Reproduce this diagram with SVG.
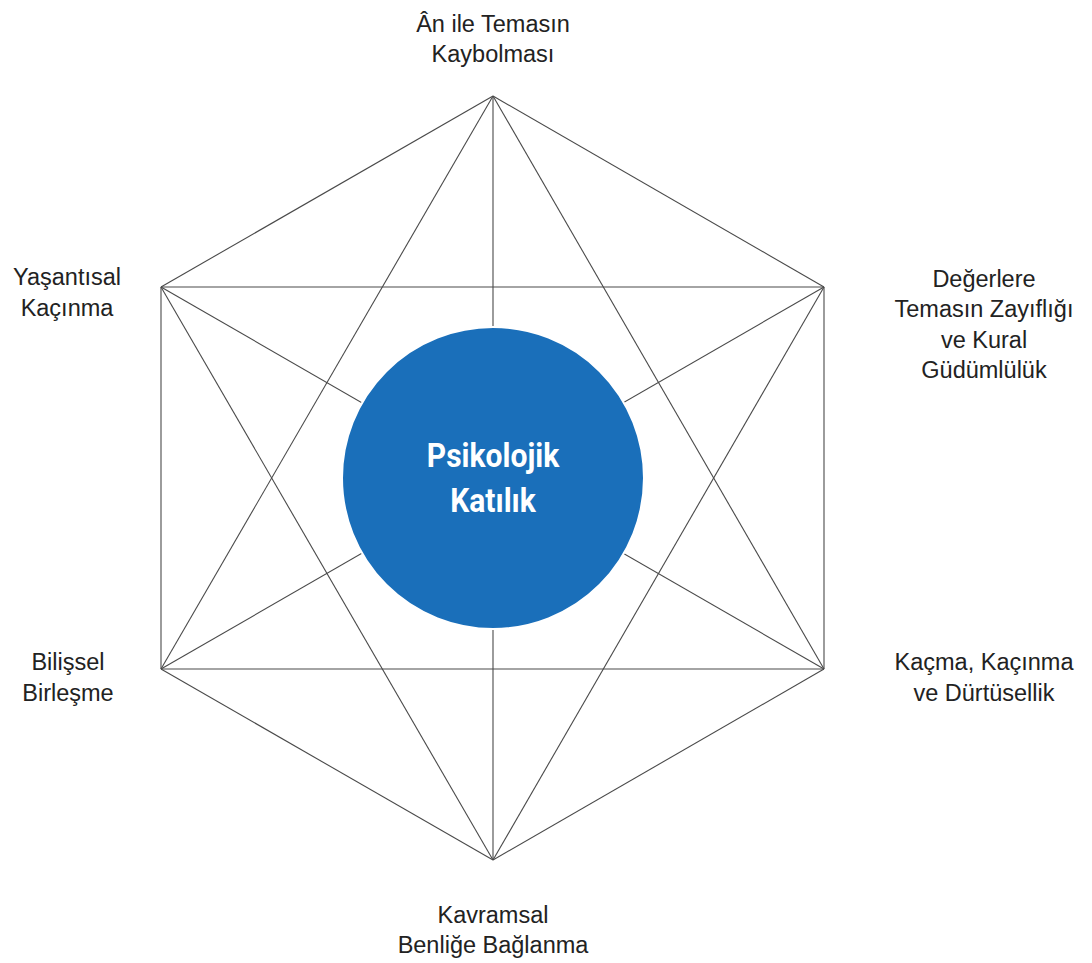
<svg xmlns="http://www.w3.org/2000/svg" width="1092" height="963" viewBox="0 0 1092 963">
<style>
.ln{stroke:#4a4a4a;stroke-width:1.1;fill:none}
.lb{font-family:"Liberation Sans",Arial,sans-serif;font-size:23.5px;fill:#222;text-anchor:middle}
.ct{font-family:"Roboto","Liberation Sans",sans-serif;font-weight:bold;font-size:33px;fill:#fff;text-anchor:middle}
</style>
<rect width="1092" height="963" fill="#fff"/>
<g id="connectors">
<line class="ln" x1="493" y1="96" x2="824" y2="287"/>
<line class="ln" x1="493" y1="96" x2="824" y2="669"/>
<line class="ln" x1="493" y1="96" x2="493" y2="860"/>
<line class="ln" x1="493" y1="96" x2="161" y2="669"/>
<line class="ln" x1="493" y1="96" x2="161" y2="287"/>
<line class="ln" x1="824" y1="287" x2="824" y2="669"/>
<line class="ln" x1="824" y1="287" x2="493" y2="860"/>
<line class="ln" x1="824" y1="287" x2="161" y2="669"/>
<line class="ln" x1="824" y1="287" x2="161" y2="287"/>
<line class="ln" x1="824" y1="669" x2="493" y2="860"/>
<line class="ln" x1="824" y1="669" x2="161" y2="669"/>
<line class="ln" x1="824" y1="669" x2="161" y2="287"/>
<line class="ln" x1="493" y1="860" x2="161" y2="669"/>
<line class="ln" x1="493" y1="860" x2="161" y2="287"/>
<line class="ln" x1="161" y1="669" x2="161" y2="287"/>
</g>
<g id="center">
<circle cx="493" cy="478" r="151" fill="#1a6fba" stroke="#fff" stroke-width="2"/>
<text class="ct" transform="translate(493 0) scale(0.91 1)"><tspan x="0" y="467">Psikolojik</tspan><tspan x="0" y="512">Katılık</tspan></text>
</g>
<g id="top"><text class="lb"><tspan x="493" y="32">Ân ile Temasın</tspan><tspan x="493" y="62">Kaybolması</tspan></text></g>
<g id="upper-right"><text class="lb"><tspan x="984" y="287">Değerlere</tspan><tspan x="984" y="317">Temasın Zayıflığı</tspan><tspan x="984" y="348">ve Kural</tspan><tspan x="984" y="378">Güdümlülük</tspan></text></g>
<g id="lower-right"><text class="lb"><tspan x="984" y="670">Kaçma, Kaçınma</tspan><tspan x="984" y="701">ve Dürtüsellik</tspan></text></g>
<g id="bottom"><text class="lb"><tspan x="493" y="923">Kavramsal</tspan><tspan x="493" y="953">Benliğe Bağlanma</tspan></text></g>
<g id="lower-left"><text class="lb"><tspan x="68" y="670">Bilişsel</tspan><tspan x="68" y="701">Birleşme</tspan></text></g>
<g id="upper-left"><text class="lb"><tspan x="67" y="285">Yaşantısal</tspan><tspan x="67" y="316">Kaçınma</tspan></text></g>
</svg>
